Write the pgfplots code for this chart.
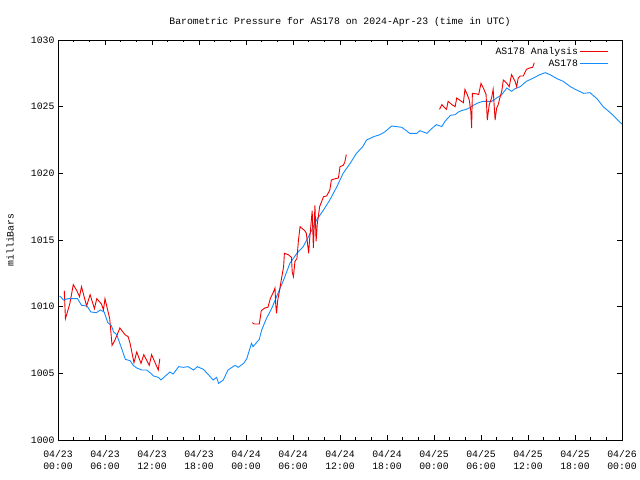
\documentclass[border=0pt]{standalone}
\usepackage{pgfplots}
\pgfplotsset{compat=1.18}
\usepackage{fontspec}
\setmainfont{Liberation Mono}
\definecolor{gred}{RGB}{240,0,0}
\definecolor{gblue}{RGB}{20,140,255}
\begin{document}
\begin{tikzpicture}
\useasboundingbox (0,0) rectangle (640bp,480bp);
\begin{axis}[
  at={(58bp,40bp)}, anchor=south west,
  scale only axis, width=564bp, height=400bp,
  xmin=0, xmax=72, ymin=1000, ymax=1030,
  font=\fontsize{9.8bp}{12bp}\selectfont,
  xtick={0,6,...,72},
  xticklabels={{04/23\\00:00},{04/23\\06:00},{04/23\\12:00},{04/23\\18:00},{04/24\\00:00},{04/24\\06:00},{04/24\\12:00},{04/24\\18:00},{04/25\\00:00},{04/25\\06:00},{04/25\\12:00},{04/25\\18:00},{04/26\\00:00}},
  xticklabel style={align=center, font=\fontsize{9.8bp}{12bp}\selectfont, yshift=-7bp},
  minor x tick num=2,
  ytick={1000,1005,...,1030},
  yticklabels={1000,1005,1010,1015,1020,1025,1030},
  tick align=inside, tick pos=both,
  major tick length=5bp, minor tick length=2.5bp,
  tick style={black, line width=0.7bp},
  axis line style={line width=0.8bp},
  title={Barometric Pressure for AS178 on 2024-Apr-23 (time in UTC)},
  title style={at={(0.5,1)}, anchor=base, yshift=10bp},
  ylabel={milliBars},
  ylabel style={at={(axis description cs:0,0.5)}, anchor=center, yshift=48bp},
  legend style={at={(1,1)}, anchor=north east, xshift=-10bp, yshift=-3bp, draw=none, fill=none, font=\fontsize{9.8bp}{12bp}\selectfont, row sep=0pt},
  legend cell align=right,
  legend plot pos=right,
  legend image code/.code={\pgfsetlinewidth{0.9bp}\pgfsetstrokecolor{gred}\pgfpathmoveto{\pgfpoint{0bp}{0bp}}\pgfpathlineto{\pgfpoint{28bp}{0bp}}\pgfusepath{stroke}},
]
\addlegendimage{color=gred}
\addlegendentry{AS178 Analysis}
\addlegendimage{legend image code/.code={\pgfsetlinewidth{0.9bp}\pgfsetstrokecolor{gblue}\pgfpathmoveto{\pgfpoint{0bp}{0bp}}\pgfpathlineto{\pgfpoint{28bp}{0bp}}\pgfusepath{stroke}}}
\addlegendentry{AS178}
\addplot[color=gred, line width=0.9bp, forget plot] coordinates {
(0.8,1011.2)(0.95,1009.1)(1.5,1010.2)(1.95,1011.65)(2.4,1011.2)(2.75,1010.75)(3.0,1011.5)(3.65,1010.05)(4.1,1010.9)(4.65,1009.85)(4.95,1010.6)(5.55,1010.2)(5.8,1009.75)(6.0,1010.6)(6.6,1009.1)(6.9,1007.1)(7.2,1007.4)(7.9,1008.4)(8.55,1007.9)(8.95,1007.75)(9.2,1007.25)(9.7,1005.8)(10.05,1006.6)(10.6,1005.75)(10.95,1006.4)(11.65,1005.6)(11.95,1006.4)(12.8,1005.25)(13.0,1006.1)
};
\addplot[color=gblue, line width=0.9bp, forget plot] coordinates {
(0.2,1010.8)(0.4,1010.7)(0.7,1010.5)(1.3,1010.6)(2.5,1010.6)(3.0,1010.1)(3.7,1010.05)(4.2,1009.6)(4.9,1009.55)(5.4,1009.75)(5.9,1009.6)(6.35,1008.8)(6.8,1008.6)(7.1,1008.1)(7.5,1007.9)(8.1,1006.9)(8.6,1006.05)(9.2,1005.95)(9.6,1005.6)(10.05,1005.4)(10.7,1005.25)(11.3,1005.25)(11.75,1005.05)(12.2,1004.8)(12.8,1004.7)(13.15,1004.5)(13.7,1004.8)(14.3,1005.1)(14.7,1004.95)(15.4,1005.5)(16.0,1005.45)(16.6,1005.5)(17.3,1005.25)(17.8,1005.5)(18.55,1005.3)(19.2,1004.9)(19.8,1004.5)(20.25,1004.7)(20.5,1004.25)(21.1,1004.5)(21.7,1005.25)(22.6,1005.6)(23.0,1005.45)(23.7,1005.75)(24.1,1006.1)(24.7,1007.25)(24.9,1007.0)(25.7,1007.55)(26.0,1008.25)(26.6,1009.1)(27.3,1009.9)(27.9,1010.75)(28.8,1012.0)(29.6,1013.25)(30.5,1014.0)(31.3,1014.5)(32.2,1015.5)(33.0,1016.5)(33.9,1017.25)(34.7,1018.0)(35.6,1019.0)(36.4,1020.0)(37.3,1020.75)(38.1,1021.5)(38.9,1022.0)(39.4,1022.5)(40.3,1022.75)(41.1,1022.9)(41.7,1023.1)(42.6,1023.55)(43.9,1023.45)(44.9,1023.0)(45.8,1023.0)(46.2,1023.2)(47.1,1023.0)(47.7,1023.35)(48.3,1023.65)(49.0,1023.5)(49.4,1023.9)(50.1,1024.35)(50.7,1024.4)(51.1,1024.6)(51.5,1024.7)(52.1,1024.8)(52.5,1024.9)(53.0,1025.1)(53.7,1025.3)(54.3,1025.4)(55.35,1025.4)(56.0,1025.65)(56.65,1025.9)(57.3,1026.4)(57.9,1026.15)(58.35,1026.35)(59.0,1026.5)(59.8,1026.9)(60.7,1027.15)(61.5,1027.4)(62.2,1027.55)(62.8,1027.4)(63.7,1027.1)(64.5,1026.9)(65.4,1026.5)(66.2,1026.25)(67.1,1026.0)(67.9,1026.05)(68.8,1025.6)(69.6,1025.0)(70.5,1024.55)(71.3,1024.1)(71.8,1023.8)(72,1023.7)
};
\addplot[color=gred, line width=0.9bp, forget plot] coordinates {
(24.8,1008.8)(25.05,1008.7)(25.7,1008.7)(25.95,1009.7)(26.4,1009.9)(26.8,1009.95)(27.1,1010.6)(27.5,1011.1)(27.7,1011.4)(27.8,1010.1)(27.9,1009.5)(28.05,1010.5)(28.25,1011.1)(28.5,1012.0)(28.8,1013.0)(28.9,1014.0)(29.4,1013.9)(29.8,1013.7)(29.9,1012.6)(30.05,1012.25)(30.25,1013.4)(30.5,1013.6)(30.7,1015.0)(30.9,1016.0)(31.5,1015.7)(31.7,1015.5)(32.0,1014.0)(32.1,1014.9)(32.45,1017.2)(32.6,1014.4)(32.8,1017.6)(32.95,1014.9)(33.1,1016.2)(33.4,1017.5)(33.9,1018.25)(34.3,1018.3)(34.7,1018.75)(34.9,1019.5)(35.4,1019.6)(35.8,1019.65)(36.0,1020.5)(36.4,1020.6)(36.6,1020.8)(36.8,1021.4)
};
\addplot[color=gred, line width=0.9bp, forget plot] coordinates {
(48.7,1024.8)(49.0,1025.15)(49.4,1024.9)(49.6,1024.8)(49.8,1025.4)(50.3,1025.15)(50.7,1025.0)(50.9,1025.65)(51.5,1025.4)(51.75,1025.3)(51.95,1026.3)(52.25,1025.9)(52.5,1025.5)(52.7,1024.65)(52.8,1023.4)(52.9,1026.0)(53.5,1025.95)(53.7,1025.9)(54.0,1026.75)(54.3,1026.4)(54.65,1025.9)(54.8,1024.0)(55.05,1025.15)(55.35,1025.65)(55.55,1026.3)(55.8,1024.0)(56.0,1024.9)(56.2,1025.15)(56.4,1025.65)(56.65,1026.15)(56.85,1027.0)(57.3,1026.75)(57.6,1026.5)(57.9,1027.4)(58.35,1026.9)(58.55,1026.5)(58.75,1027.15)(59.0,1027.3)(59.4,1027.3)(59.8,1027.8)(60.2,1027.9)(60.6,1027.95)(60.8,1028.3)
};
\end{axis}
\end{tikzpicture}
\end{document}
